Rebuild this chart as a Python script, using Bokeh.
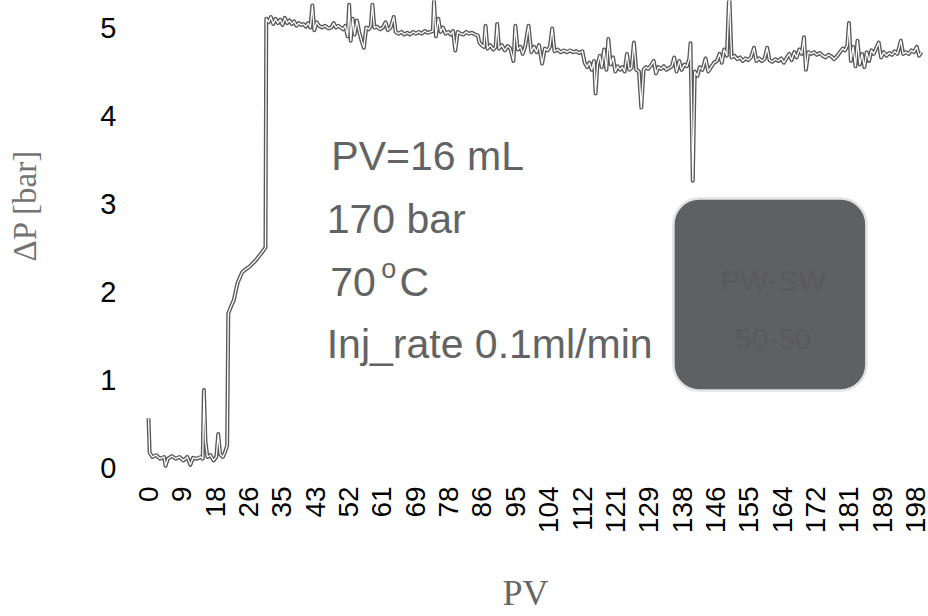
import math
from bokeh.plotting import figure
from bokeh.models import Range1d, BoxAnnotation, Label, ColumnDataSource
from bokeh.core.properties import value
from bokeh.embed import file_html
from bokeh.resources import INLINE

# ---------------- data ----------------
pv = [0, 0.3, 1, 2, 3, 4, 4.4, 5, 6, 7, 8, 9, 10, 10.8, 11.5, 12.5, 13.5, 14.0, 14.3, 14.7,
      15.2, 16, 16.8, 17.5, 18.0, 18.5, 19.2, 19.8, 20.3, 20.6, 21.2, 22, 23, 24.2, 25, 26,
      27.6, 28.5, 29.4, 30.2,
      30.4, 31.0, 31.6, 32.2, 32.8, 33.4, 34.0, 34.6, 35.2, 35.8, 36.4, 37.0, 37.6, 38.2,
      38.8, 39.4, 40.0, 40.6, 41.2, 41.8, 42.3, 42.8, 43.4, 44.0, 44.8, 45.6, 46.4, 47.2,
      47.8, 48.4, 49.0, 49.6, 50.2, 50.8, 51.4, 51.8, 52.2, 52.7, 53.2, 53.8, 54.4, 55.0,
      55.6, 56.2, 56.8, 57.4, 57.8, 58.3, 59.0, 59.8, 60.5, 61.2, 61.8, 62.5, 63.3, 63.8,
      64.5, 65.3, 66.0, 66.8, 67.5, 68.3, 69.0, 69.8, 70.5, 71.3, 72.0, 72.8, 73.4, 73.7,
      74.2, 74.8, 75.4, 76.0, 76.7, 77.4, 78.0, 78.6, 79.2, 79.8, 80.5, 81.3, 82.0, 82.7,
      83.5, 84.3, 85.0, 85.4, 86.0, 86.6, 87.0, 87.5, 88.2, 89.0, 89.6, 90.0, 90.5, 91.2,
      92.0, 92.7, 93.4, 94.2, 94.7, 95.3, 96.0, 96.6, 97.2, 98.1, 98.8, 99.5, 100.2, 100.8,
      101.6, 102.3, 103.0, 103.6, 104.2, 104.8, 105.6, 106.4, 107.2, 108.0, 108.8, 109.6,
      110.4, 111.2, 112.0, 112.6, 113.2, 113.8, 114.4, 115.0, 115.4, 115.9, 116.5, 117.0,
      117.6, 118.2, 118.7, 119.3, 119.9, 120.5, 121.1, 121.7, 122.3, 122.9, 123.5, 124.1,
      124.7, 125.3, 125.9, 126.6, 127.2, 127.8, 128.4, 129.0, 129.7, 130.4, 131.0, 131.6,
      132.3, 133.0, 133.7, 134.4, 135.1, 135.7, 136.3, 137.0, 137.6, 138.3, 139.0, 139.6,
      139.9, 140.5, 141.0, 141.7, 142.3, 143.0, 143.8, 144.5, 145.2, 146.0, 146.7, 147.4,
      148.0, 148.6, 149.3, 149.9, 150.5, 151.2, 152.0, 152.7, 153.4, 154.1, 154.8, 155.5,
      156.3, 156.9, 157.6, 158.3, 159.0, 159.7, 160.3, 161.0, 161.8, 162.6, 163.3, 164.0,
      164.8, 165.4, 166.0, 166.7, 167.3, 168.0, 168.6, 169.2, 169.7, 170.3, 171.0, 171.8,
      172.5, 173.3, 174.0, 174.8, 175.5, 176.3, 177.0, 177.8, 178.5, 179.2, 179.8, 180.4,
      180.8, 181.3, 181.9, 182.5, 183.0, 183.6, 184.2, 184.8, 185.4, 186.0, 186.6, 187.2,
      187.8, 188.5, 189.1, 189.8, 190.5, 191.2, 191.9, 192.6, 193.3, 194.2, 194.8, 195.5,
      196.2, 196.9, 197.6, 198.3, 198.9, 199.5]

dp = [0.56, 0.17, 0.12, 0.14, 0.10, 0.12, 0.02, 0.10, 0.13, 0.10, 0.12, 0.08, 0.12, 0.03,
      0.11, 0.10, 0.12, 0.10, 0.88, 0.30, 0.12, 0.14, 0.08, 0.12, 0.38, 0.15, 0.12, 0.18,
      0.25, 1.75, 1.82, 1.90, 2.10, 2.22, 2.25, 2.28, 2.35, 2.40, 2.45, 2.50,
      5.10, 5.06, 5.12, 5.04, 5.10, 5.05, 5.09, 5.03, 5.11, 5.05, 5.08, 5.04, 5.07, 5.02,
      5.05, 5.03, 5.04, 5.01, 5.05, 5.00, 5.25, 4.97, 5.06, 5.02, 5.00, 5.02, 4.99, 5.00,
      5.05, 5.00, 5.02, 5.00, 4.98, 5.02, 4.90, 5.26, 4.85, 5.10, 4.92, 5.08, 4.95, 4.85,
      4.77, 5.00, 4.98, 5.02, 5.26, 5.00, 5.01, 4.98, 5.00, 5.06, 4.97, 5.00, 5.12, 4.95,
      4.93, 4.95, 4.92, 4.94, 4.92, 4.95, 4.93, 4.95, 4.93, 4.96, 4.94, 4.95, 4.96, 5.30,
      4.90, 5.10, 4.95, 5.00, 4.93, 4.95, 4.92, 4.96, 4.74, 4.95, 4.93, 4.92, 4.95, 4.93,
      4.94, 4.92, 4.91, 4.83, 4.80, 4.78, 5.02, 4.76, 4.80, 4.75, 4.78, 5.04, 4.76, 4.80,
      4.74, 4.79, 4.76, 4.62, 5.02, 4.75, 4.78, 4.70, 4.78, 5.02, 4.72, 4.78, 4.72, 4.80,
      4.59, 4.76, 4.74, 4.78, 4.99, 4.73, 4.75, 4.72, 4.74, 4.72, 4.74, 4.72,
      4.73, 4.71, 4.73, 4.60, 4.55, 4.60, 4.52, 4.62, 4.25, 4.58, 4.68, 4.55,
      4.75, 4.52, 4.87, 4.58, 4.66, 4.50, 4.56, 4.52, 4.55, 4.50, 4.70, 4.52,
      4.54, 4.83, 4.52, 4.50, 4.09, 4.52, 4.55, 4.53, 4.57, 4.62, 4.48, 4.55,
      4.53, 4.56, 4.52, 4.54, 4.56, 4.66, 4.50, 4.62, 4.52, 4.58, 4.56, 4.65,
      4.82, 3.26, 4.50, 4.45, 4.55, 4.52, 4.65, 4.50, 4.55, 4.60, 4.62, 4.70,
      4.60, 4.75, 4.68, 5.40, 4.66, 4.68, 4.64, 4.66, 4.62, 4.65, 4.63, 4.66,
      4.77, 4.62, 4.65, 4.62, 4.64, 4.77, 4.63, 4.61, 4.64, 4.62, 4.65, 4.60,
      4.66, 4.70, 4.63, 4.72, 4.66, 4.75, 4.70, 4.89, 4.52, 4.72, 4.70, 4.72,
      4.69, 4.71, 4.68, 4.66, 4.69, 4.67, 4.64, 4.68, 4.72, 4.76, 4.74, 4.80,
      5.05, 4.62, 4.78, 4.56, 4.85, 4.58, 4.70, 4.55, 4.72, 4.62, 4.74, 4.70,
      4.76, 4.83, 4.66, 4.72, 4.68, 4.71, 4.69, 4.73, 4.70, 4.85, 4.70, 4.72,
      4.70, 4.74, 4.72, 4.78, 4.68, 4.72]

x_tick_labels = ["0", "9", "18", "26", "35", "43", "52", "61", "69", "78", "86", "95",
                 "104", "112", "121", "129", "138", "146", "155", "164", "172", "181",
                 "189", "198"]
y_ticks = [0, 1, 2, 3, 4, 5]
y_tick_labels = ["0", "1", "2", "3", "4", "5"]

notes = ["PV=16 mL", "170 bar", "70 ", "Inj_rate 0.1ml/min"]
box_texts = ["PW-SW", "50-50"]

# ---------------- figure ----------------
# The frame fills the whole page; tick labels and titles are drawn through the same scales.
p = figure(width=928, height=616,
           x_range=Range1d(-38.2, 201.34), y_range=Range1d(-1.693, 5.307),
           output_backend="svg", toolbar_location=None,
           x_axis_location=None, y_axis_location=None,
           min_border_left=0, min_border_right=0, min_border_top=0,
           min_border_bottom=0)
p.outline_line_color = None
p.xgrid.grid_line_color = None
p.ygrid.grid_line_color = None
p.background_fill_color = "white"
p.border_fill_color = "white"

src = ColumnDataSource(dict(x=pv, y=dp))
p.line("x", "y", source=src, line_color="#585858", line_width=4.0, line_join="round")
p.line("x", "y", source=src, line_color="#ffffff", line_width=1.3, line_join="round")

# y tick labels
ysrc = ColumnDataSource(dict(y=y_ticks, t=y_tick_labels, x=[-8.3] * len(y_ticks)))
p.text("x", "y", text="t", source=ysrc, text_font=value("Liberation Sans"),
       text_font_size="29px", text_color="black", text_align="right",
       text_baseline="middle")

# x tick labels (evenly spaced, rotated)
step = 198 / (len(x_tick_labels) - 1)
xt = [i * step for i in range(len(x_tick_labels))]
xsrc = ColumnDataSource(dict(x=xt, t=x_tick_labels, y=[-0.215] * len(xt)))
p.text("x", "y", text="t", source=xsrc, text_font=value("Liberation Sans"),
       text_font_size="28px", text_color="black", text_align="right",
       text_baseline="middle", angle=math.pi / 2)

# axis titles
p.add_layout(Label(x=-31.75, y=2.977, text="ΔP [bar]", text_font="Liberation Serif",
                   text_font_size="33px", text_color="#737373", angle=math.pi / 2,
                   text_align="center", text_baseline="middle"))
p.add_layout(Label(x=97.3, y=-1.43, text="PV", text_font="Liberation Serif",
                   text_font_size="36px", text_color="#666666",
                   text_align="center", text_baseline="middle"))

# annotation texts
txt_color = "#636363"
dy = 0.135
p.add_layout(Label(x=47.2, y=3.41 + dy, text=notes[0], text_font="Liberation Sans",
                   text_font_size="41px", text_color=txt_color, text_baseline="alphabetic"))
p.add_layout(Label(x=46.0, y=2.693 + dy, text=notes[1], text_font="Liberation Sans",
                   text_font_size="41px", text_color=txt_color, text_baseline="alphabetic"))
p.add_layout(Label(x=46.9, y=1.977 + dy, text=notes[2], text_font="Liberation Sans",
                   text_font_size="41px", text_color=txt_color, text_baseline="alphabetic"))
p.add_layout(Label(x=60.1, y=2.125 + dy, text="o", text_font="Liberation Sans",
                   text_font_size="27px", text_color=txt_color, text_baseline="alphabetic"))
p.add_layout(Label(x=64.8, y=1.977 + dy, text="C", text_font="Liberation Sans",
                   text_font_size="41px", text_color=txt_color, text_baseline="alphabetic"))
p.add_layout(Label(x=46.0, y=1.273 + dy, text=notes[3], text_font="Liberation Sans",
                   text_font_size="41px", text_color=txt_color, text_baseline="alphabetic"))

# rounded grey box
p.add_layout(BoxAnnotation(left=135.5, right=185.3, bottom=0.875, top=3.057,
                           fill_color="#5f6062", fill_alpha=1.0,
                           line_color="#e2e2e2", line_width=2.5, line_alpha=1.0,
                           border_radius=26))
p.add_layout(Label(x=161.3, y=2.125, text=box_texts[0], text_font="Liberation Sans",
                   text_font_size="30px", text_color="#5a5a5c", text_align="center",
                   text_baseline="middle"))
p.add_layout(Label(x=161.3, y=1.466, text=box_texts[1], text_font="Liberation Sans",
                   text_font_size="30px", text_color="#5a5a5c", text_align="center",
                   text_baseline="middle"))

open("out.html", "w").write(file_html(p, INLINE))
